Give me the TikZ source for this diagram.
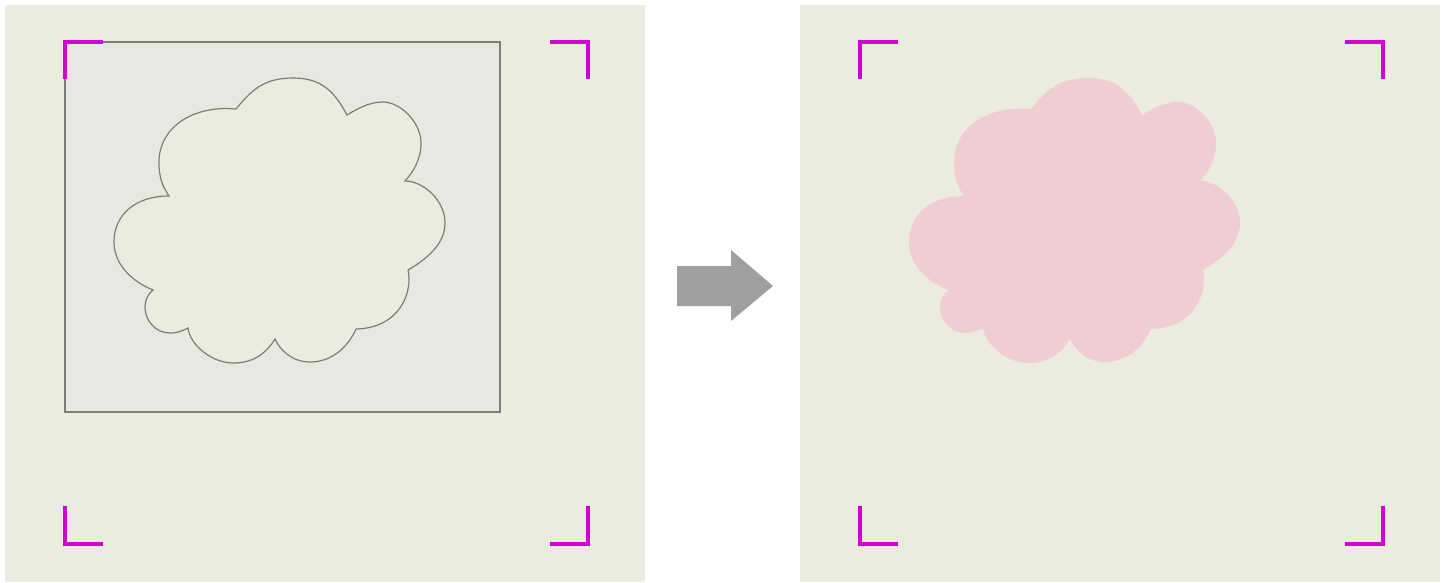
\documentclass[tikz,border=0pt]{standalone}
\definecolor{panelbg}{RGB}{235,235,224}
\definecolor{framefill}{RGB}{231,232,226}
\definecolor{framegray}{RGB}{125,125,120}
\definecolor{cloudpink}{RGB}{240,205,210}
\definecolor{markmagenta}{RGB}{210,0,210}
\definecolor{arrowgray}{RGB}{158,159,158}
\usetikzlibrary{calc}
\tikzset{
  panel/.style={fill=panelbg},
  framebox/.style={draw=framegray, fill=framefill, line width=1.2pt},
  cropmark/.style={draw=markmagenta, line width=4pt, line join=miter},
  cloudline/.style={draw=framegray, fill=panelbg, line width=1.2pt},
  cloudfill/.style={fill=cloudpink},
  bigarrow/.style={fill=arrowgray},
}
\begin{document}
\begin{tikzpicture}[x=1pt, y=-1pt]
  \useasboundingbox (0,0) rectangle (1446,582);
  % the two panels
  \foreach \dx in {0,795}
    \fill[panel] (5+\dx,5) rectangle (645+\dx,582);
  \filldraw[framebox] (65,42) rectangle (500,412);
  % cloud, outlined before and filled after
  \foreach \dx/\cloudstyle in {0/cloudline, 795/cloudfill}{
    \begin{scope}[shift={(\dx,0)}]
      \path[style=\cloudstyle] (236,109) .. controls (251,91) and (263,78) .. (293,78)
        .. controls (323,78) and (335,93) .. (347,115)
        .. controls (357,109) and (369,102) .. (383,102)
        .. controls (400,102) and (421,122) .. (421,143)
        .. controls (421,160) and (413,172) .. (405,181)
        .. controls (423,181) and (445,200) .. (445,223)
        .. controls (445,245) and (425,260) .. (408,270)
        .. controls (413,292) and (400,328) .. (356,329)
        .. controls (348,347) and (332,362) .. (310,362)
        .. controls (292,362) and (280,350) .. (275,339)
        .. controls (265,355) and (252,363) .. (233,363)
        .. controls (212,363) and (190,345) .. (188,328)
        .. controls (180,332) and (176,333) .. (170,333)
        .. controls (155,333) and (145,320) .. (145,307)
        .. controls (145,300) and (148,294) .. (153,290)
        .. controls (133,282) and (114,265) .. (114,242)
        .. controls (114,215) and (135,196) .. (169,196)
        .. controls (161,184) and (159,175) .. (159,162)
        .. controls (159,128) and (192,105) .. (236,109) -- cycle;
    \end{scope}
  }
  % crop marks
  \foreach \dx in {0,795}{
    \begin{scope}[shift={(\dx,0)}]
      \draw[cropmark] (103,42) -- (65,42) -- (65,79);
      \draw[cropmark] (550,42) -- (588,42) -- (588,79);
      \draw[cropmark] (65,506) -- (65,544) -- (103,544);
      \draw[cropmark] (588,506) -- (588,544) -- (550,544);
    \end{scope}
  }
  \fill[bigarrow] (677,266) -- (731,266) -- (731,250) -- (773,286)
    -- (731,321) -- (731,306) -- (677,306) -- cycle;
\end{tikzpicture}
\end{document}
